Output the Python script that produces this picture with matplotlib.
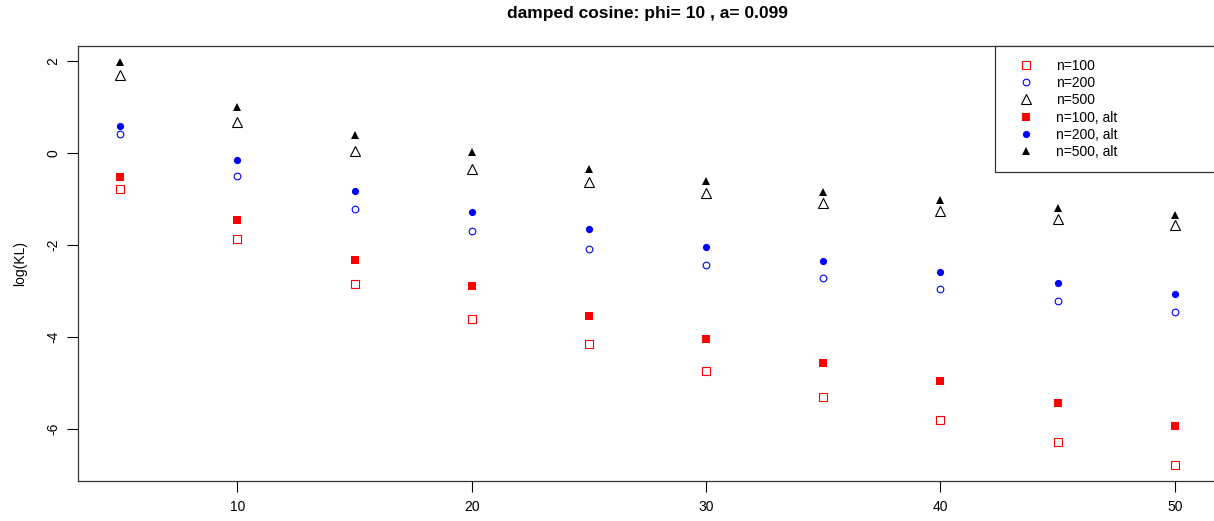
import numpy as np
import matplotlib
matplotlib.use("Agg")
import matplotlib.pyplot as plt

plt.rcParams['font.family'] = ['Liberation Sans', 'DejaVu Sans']
plt.rcParams['axes.unicode_minus'] = False

# sample sizes along the x axis
lags = [5, 10, 15, 20, 25, 30, 35, 40, 45, 50]

# log(KL) values
kl_100 = [-0.79, -1.88, -2.85, -3.60, -4.16, -4.75, -5.30, -5.81, -6.29, -6.78]
kl_200 = [0.40, -0.50, -1.22, -1.70, -2.09, -2.43, -2.71, -2.95, -3.21, -3.45]
kl_500 = [1.70, 0.67, 0.04, -0.35, -0.64, -0.88, -1.09, -1.27, -1.43, -1.57]
kl_100_alt = [-0.52, -1.46, -2.33, -2.89, -3.55, -4.05, -4.57, -4.96, -5.43, -5.94]
kl_200_alt = [0.59, -0.16, -0.84, -1.28, -1.66, -2.04, -2.35, -2.59, -2.83, -3.07]
kl_500_alt = [1.97, 1.00, 0.38, 0.01, -0.35, -0.61, -0.85, -1.02, -1.20, -1.36]

fig = plt.figure(figsize=(12.14, 5.21), dpi=100)
ax = fig.add_axes([78/1214, 1 - 481/521, 1139/1214, 435/521])

ax.plot(lags, kl_100, ls='none', marker='s', ms=5.4, mfc='none', mec='red', mew=0.8, label='n=100')
ax.plot(lags, kl_200, ls='none', marker='o', ms=4.8, mfc='none', mec='blue', mew=0.8, label='n=200')
ax.plot(lags, kl_500, ls='none', marker='^', ms=6.8, mfc='none', mec='black', mew=0.8, label='n=500')
ax.plot(lags, kl_100_alt, ls='none', marker='s', ms=5.6, mfc='red', mec='red', mew=0, label='n=100, alt')
ax.plot(lags, kl_200_alt, ls='none', marker='o', ms=5.2, mfc='blue', mec='blue', mew=0, label='n=200, alt')
ax.plot(lags, kl_500_alt, ls='none', marker='^', ms=6.0, mfc='black', mec='black', mew=0, label='n=500, alt')

span_x = max(lags) - min(lags)
ax.set_xlim(min(lags) - 0.04 * span_x, max(lags) + 0.04 * span_x)
all_y = kl_100 + kl_200 + kl_500 + kl_100_alt + kl_200_alt + kl_500_alt
span_y = max(all_y) - min(all_y)
ax.set_ylim(min(all_y) - 0.04 * span_y, max(all_y) + 0.04 * span_y)

ax.set_xticks([10, 20, 30, 40, 50])
ax.set_yticks([-6, -4, -2, 0, 2])
ax.tick_params(direction='out', length=8, width=0.8, labelsize=10, pad=6)
ax.tick_params(axis='y', pad=4.5)
for lab in ax.get_yticklabels():
    lab.set_rotation(90)
    lab.set_va('center')
for sp in ax.spines.values():
    sp.set_linewidth(0.9)
    sp.set_color('#333333')

ax.set_ylabel('log(KL)', fontsize=10, labelpad=14)
ax.set_title('damped cosine: phi= 10 , a= 0.099', fontsize=12.5, fontweight='bold', pad=20)

leg = ax.legend(loc='upper left', bbox_to_anchor=(917/1139, 0, 222/1139, 1.0), mode='expand',
                borderaxespad=0, fancybox=False, edgecolor='#333333', fontsize=10,
                labelspacing=0.24, handletextpad=0.88, borderpad=0.9, handlelength=2.6,
                numpoints=1, framealpha=1)
leg.get_frame().set_linewidth(0.9)

fig.savefig('out.png', dpi=100)
